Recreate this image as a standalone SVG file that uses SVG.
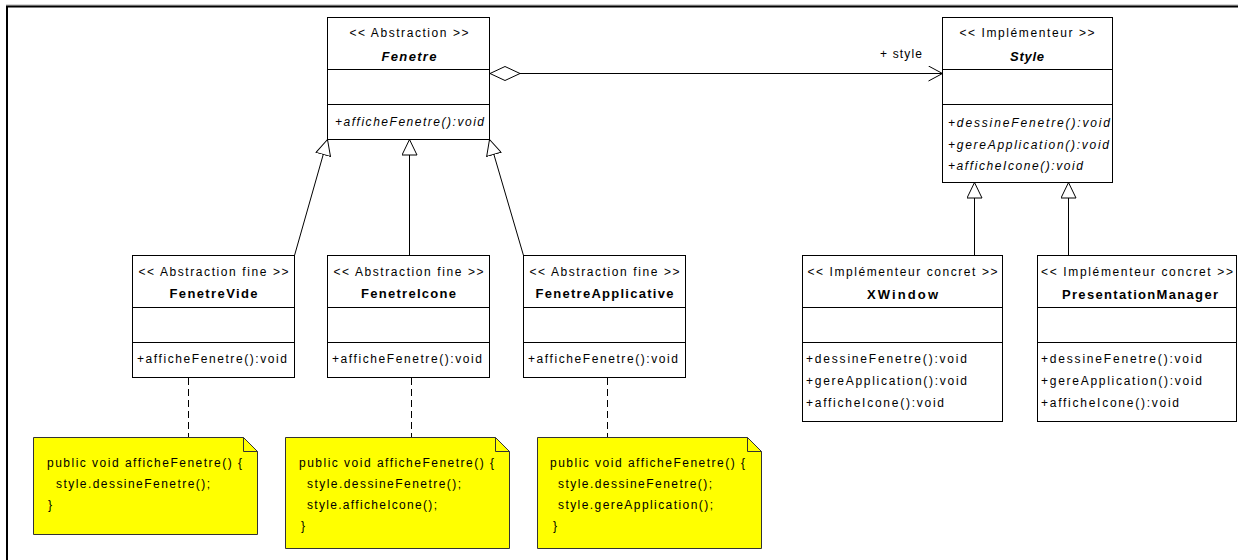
<svg xmlns="http://www.w3.org/2000/svg" width="1238" height="560" viewBox="0 0 1238 560">
  <style>
    text { font-family: "Liberation Sans", Arial, sans-serif; font-size: 12px; fill: #000; }
    .c { text-anchor: middle; }
    .b { font-weight: bold; font-size: 13px; }
    .i { font-style: italic; }
    .box { fill: #fff; stroke: #000; stroke-width: 1; }
    .sep { stroke: #000; stroke-width: 1; fill: none; }
    .note { fill: #ffff00; stroke: #333; stroke-width: 1; }
    .fold { fill: none; stroke: #333; stroke-width: 1; }
    .link { stroke: #000; stroke-width: 1; fill: none; }
    .anchor { stroke: #000; stroke-width: 1; stroke-dasharray: 7 4; fill: none; }
  </style>
  <defs>
    <marker id="gen" viewBox="0 0 16 16" refX="16" refY="8" markerWidth="16" markerHeight="16" markerUnits="userSpaceOnUse" orient="auto">
      <path d="M0.5,0.5 L16,8 L0.5,15.5 Z" fill="#fff" stroke="#000" stroke-width="1"/>
    </marker>
    <marker id="agg" viewBox="0 0 31 15" refX="0.5" refY="7.5" markerWidth="31" markerHeight="15" markerUnits="userSpaceOnUse" orient="auto">
      <path d="M0.5,7.5 L15.5,0.5 L30.5,7.5 L15.5,14.5 Z" fill="#fff" stroke="#000" stroke-width="1"/>
    </marker>
    <marker id="open" viewBox="0 0 15 16" refX="14.5" refY="8" markerWidth="15" markerHeight="16" markerUnits="userSpaceOnUse" orient="auto">
      <path d="M0.5,0.5 L14.5,8 L0.5,15.5" fill="none" stroke="#000" stroke-width="1"/>
    </marker>
  </defs>

  <rect width="1238" height="560" fill="#fff"/>
  <!-- frame -->
  <line x1="6" y1="5" x2="1238" y2="5" stroke="#aaa" stroke-width="1"/>
  <path d="M7,560 V6.5 H1238" fill="none" stroke="#000" stroke-width="2"/>

  <!-- connectors -->
  <g id="connectors">
    <line class="link" x1="490" y1="73.5" x2="942.5" y2="73.5" marker-start="url(#agg)" marker-end="url(#open)"/>
    <text x="880" y="58" textLength="42" lengthAdjust="spacing">+ style</text>
    <line class="link" x1="294.5" y1="255.5" x2="327.5" y2="139.5" marker-end="url(#gen)"/>
    <line class="link" x1="409.5" y1="255.5" x2="409.5" y2="139.5" marker-end="url(#gen)"/>
    <line class="link" x1="523.5" y1="255.5" x2="489.5" y2="139.5" marker-end="url(#gen)"/>
    <line class="link" x1="974.5" y1="255.5" x2="974.5" y2="182.5" marker-end="url(#gen)"/>
    <line class="link" x1="1068.5" y1="255.5" x2="1068.5" y2="182.5" marker-end="url(#gen)"/>
    <line class="anchor" x1="188.5" y1="378" x2="188.5" y2="437"/>
    <line class="anchor" x1="411.5" y1="378" x2="411.5" y2="437"/>
    <line class="anchor" x1="607.5" y1="378" x2="607.5" y2="437"/>
  </g>

  <!-- abstraction -->
  <g id="fenetre">
    <rect class="box" x="327.5" y="17.5" width="162" height="122"/>
    <path class="sep" d="M327.5,69.5 H489.5 M327.5,104.5 H489.5"/>
    <text class="c" x="409" y="37" textLength="119" lengthAdjust="spacing">&lt;&lt; Abstraction &gt;&gt;</text>
    <text class="c b i" x="409" y="61" textLength="55" lengthAdjust="spacing">Fenetre</text>
    <text class="i" x="335" y="126" textLength="149" lengthAdjust="spacing">+afficheFenetre():void</text>
  </g>

  <!-- implementor -->
  <g id="style">
    <rect class="box" x="942.5" y="17.5" width="170" height="165"/>
    <path class="sep" d="M942.5,69.5 H1112.5 M942.5,104.5 H1112.5"/>
    <text class="c" x="1027" y="37" textLength="135" lengthAdjust="spacing">&lt;&lt; Implémenteur &gt;&gt;</text>
    <text class="c b i" x="1027" y="61" textLength="34" lengthAdjust="spacing">Style</text>
    <text class="i" x="948" y="127" textLength="162" lengthAdjust="spacing">+dessineFenetre():void</text>
    <text class="i" x="948" y="149" textLength="161" lengthAdjust="spacing">+gereApplication():void</text>
    <text class="i" x="948" y="170" textLength="135" lengthAdjust="spacing">+afficheIcone():void</text>
  </g>

  <!-- refined abstractions -->
  <g id="fenetreVide">
    <rect class="box" x="132.5" y="255.5" width="162" height="122"/>
    <path class="sep" d="M132.5,307.5 H294.5 M132.5,342.5 H294.5"/>
    <text class="c" x="213.5" y="276" textLength="150" lengthAdjust="spacing">&lt;&lt; Abstraction fine &gt;&gt;</text>
    <text class="c b" x="213.5" y="298" textLength="88" lengthAdjust="spacing">FenetreVide</text>
    <text x="137" y="363" textLength="150" lengthAdjust="spacing">+afficheFenetre():void</text>
  </g>
  <g id="fenetreIcone">
    <rect class="box" x="327.5" y="255.5" width="162" height="122"/>
    <path class="sep" d="M327.5,307.5 H489.5 M327.5,342.5 H489.5"/>
    <text class="c" x="408.5" y="276" textLength="150" lengthAdjust="spacing">&lt;&lt; Abstraction fine &gt;&gt;</text>
    <text class="c b" x="408.5" y="298" textLength="95" lengthAdjust="spacing">FenetreIcone</text>
    <text x="332" y="363" textLength="150" lengthAdjust="spacing">+afficheFenetre():void</text>
  </g>
  <g id="fenetreApplicative">
    <rect class="box" x="523.5" y="255.5" width="162" height="122"/>
    <path class="sep" d="M523.5,307.5 H685.5 M523.5,342.5 H685.5"/>
    <text class="c" x="604.5" y="276" textLength="150" lengthAdjust="spacing">&lt;&lt; Abstraction fine &gt;&gt;</text>
    <text class="c b" x="604.5" y="298" textLength="138" lengthAdjust="spacing">FenetreApplicative</text>
    <text x="528" y="363" textLength="150" lengthAdjust="spacing">+afficheFenetre():void</text>
  </g>

  <!-- concrete implementors -->
  <g id="xWindow">
    <rect class="box" x="802.5" y="255.5" width="200" height="166"/>
    <path class="sep" d="M802.5,307.5 H1002.5 M802.5,342.5 H1002.5"/>
    <text class="c" x="902.5" y="276" textLength="190" lengthAdjust="spacing">&lt;&lt; Implémenteur concret &gt;&gt;</text>
    <text class="c b" x="902.5" y="299" textLength="71" lengthAdjust="spacing">XWindow</text>
    <text x="806" y="363" textLength="161" lengthAdjust="spacing">+dessineFenetre():void</text>
    <text x="806" y="385" textLength="161" lengthAdjust="spacing">+gereApplication():void</text>
    <text x="806" y="407" textLength="138" lengthAdjust="spacing">+afficheIcone():void</text>
  </g>
  <g id="presentationManager">
    <rect class="box" x="1037.5" y="255.5" width="199" height="166"/>
    <path class="sep" d="M1037.5,307.5 H1236.5 M1037.5,342.5 H1236.5"/>
    <text class="c" x="1137" y="276" textLength="192" lengthAdjust="spacing">&lt;&lt; Implémenteur concret &gt;&gt;</text>
    <text class="c b" x="1140" y="299" textLength="156" lengthAdjust="spacing">PresentationManager</text>
    <text x="1041" y="363" textLength="161" lengthAdjust="spacing">+dessineFenetre():void</text>
    <text x="1041" y="385" textLength="161" lengthAdjust="spacing">+gereApplication():void</text>
    <text x="1041" y="407" textLength="138" lengthAdjust="spacing">+afficheIcone():void</text>
  </g>

  <!-- code notes -->
  <g id="noteVide">
    <path class="note" d="M33.5,437.5 H243.5 L257.5,451.5 V534.5 H33.5 Z"/>
    <path class="fold" d="M243.5,437.5 V451.5 H257.5"/>
    <text x="47" y="467" textLength="195" lengthAdjust="spacing">public void afficheFenetre() {</text>
    <text x="56" y="488" textLength="154" lengthAdjust="spacing">style.dessineFenetre();</text>
    <text x="48" y="509">}</text>
  </g>
  <g id="noteIcone">
    <path class="note" d="M285.5,437.5 H495.5 L509.5,451.5 V548.5 H285.5 Z"/>
    <path class="fold" d="M495.5,437.5 V451.5 H509.5"/>
    <text x="299" y="467" textLength="195" lengthAdjust="spacing">public void afficheFenetre() {</text>
    <text x="307" y="488" textLength="154" lengthAdjust="spacing">style.dessineFenetre();</text>
    <text x="307" y="509" textLength="130" lengthAdjust="spacing">style.afficheIcone();</text>
    <text x="301" y="530">}</text>
  </g>
  <g id="noteApplicative">
    <path class="note" d="M537.5,437.5 H747.5 L761.5,451.5 V548.5 H537.5 Z"/>
    <path class="fold" d="M747.5,437.5 V451.5 H761.5"/>
    <text x="550" y="467" textLength="195" lengthAdjust="spacing">public void afficheFenetre() {</text>
    <text x="558" y="488" textLength="154" lengthAdjust="spacing">style.dessineFenetre();</text>
    <text x="558" y="509" textLength="155" lengthAdjust="spacing">style.gereApplication();</text>
    <text x="553" y="530">}</text>
  </g>
</svg>
